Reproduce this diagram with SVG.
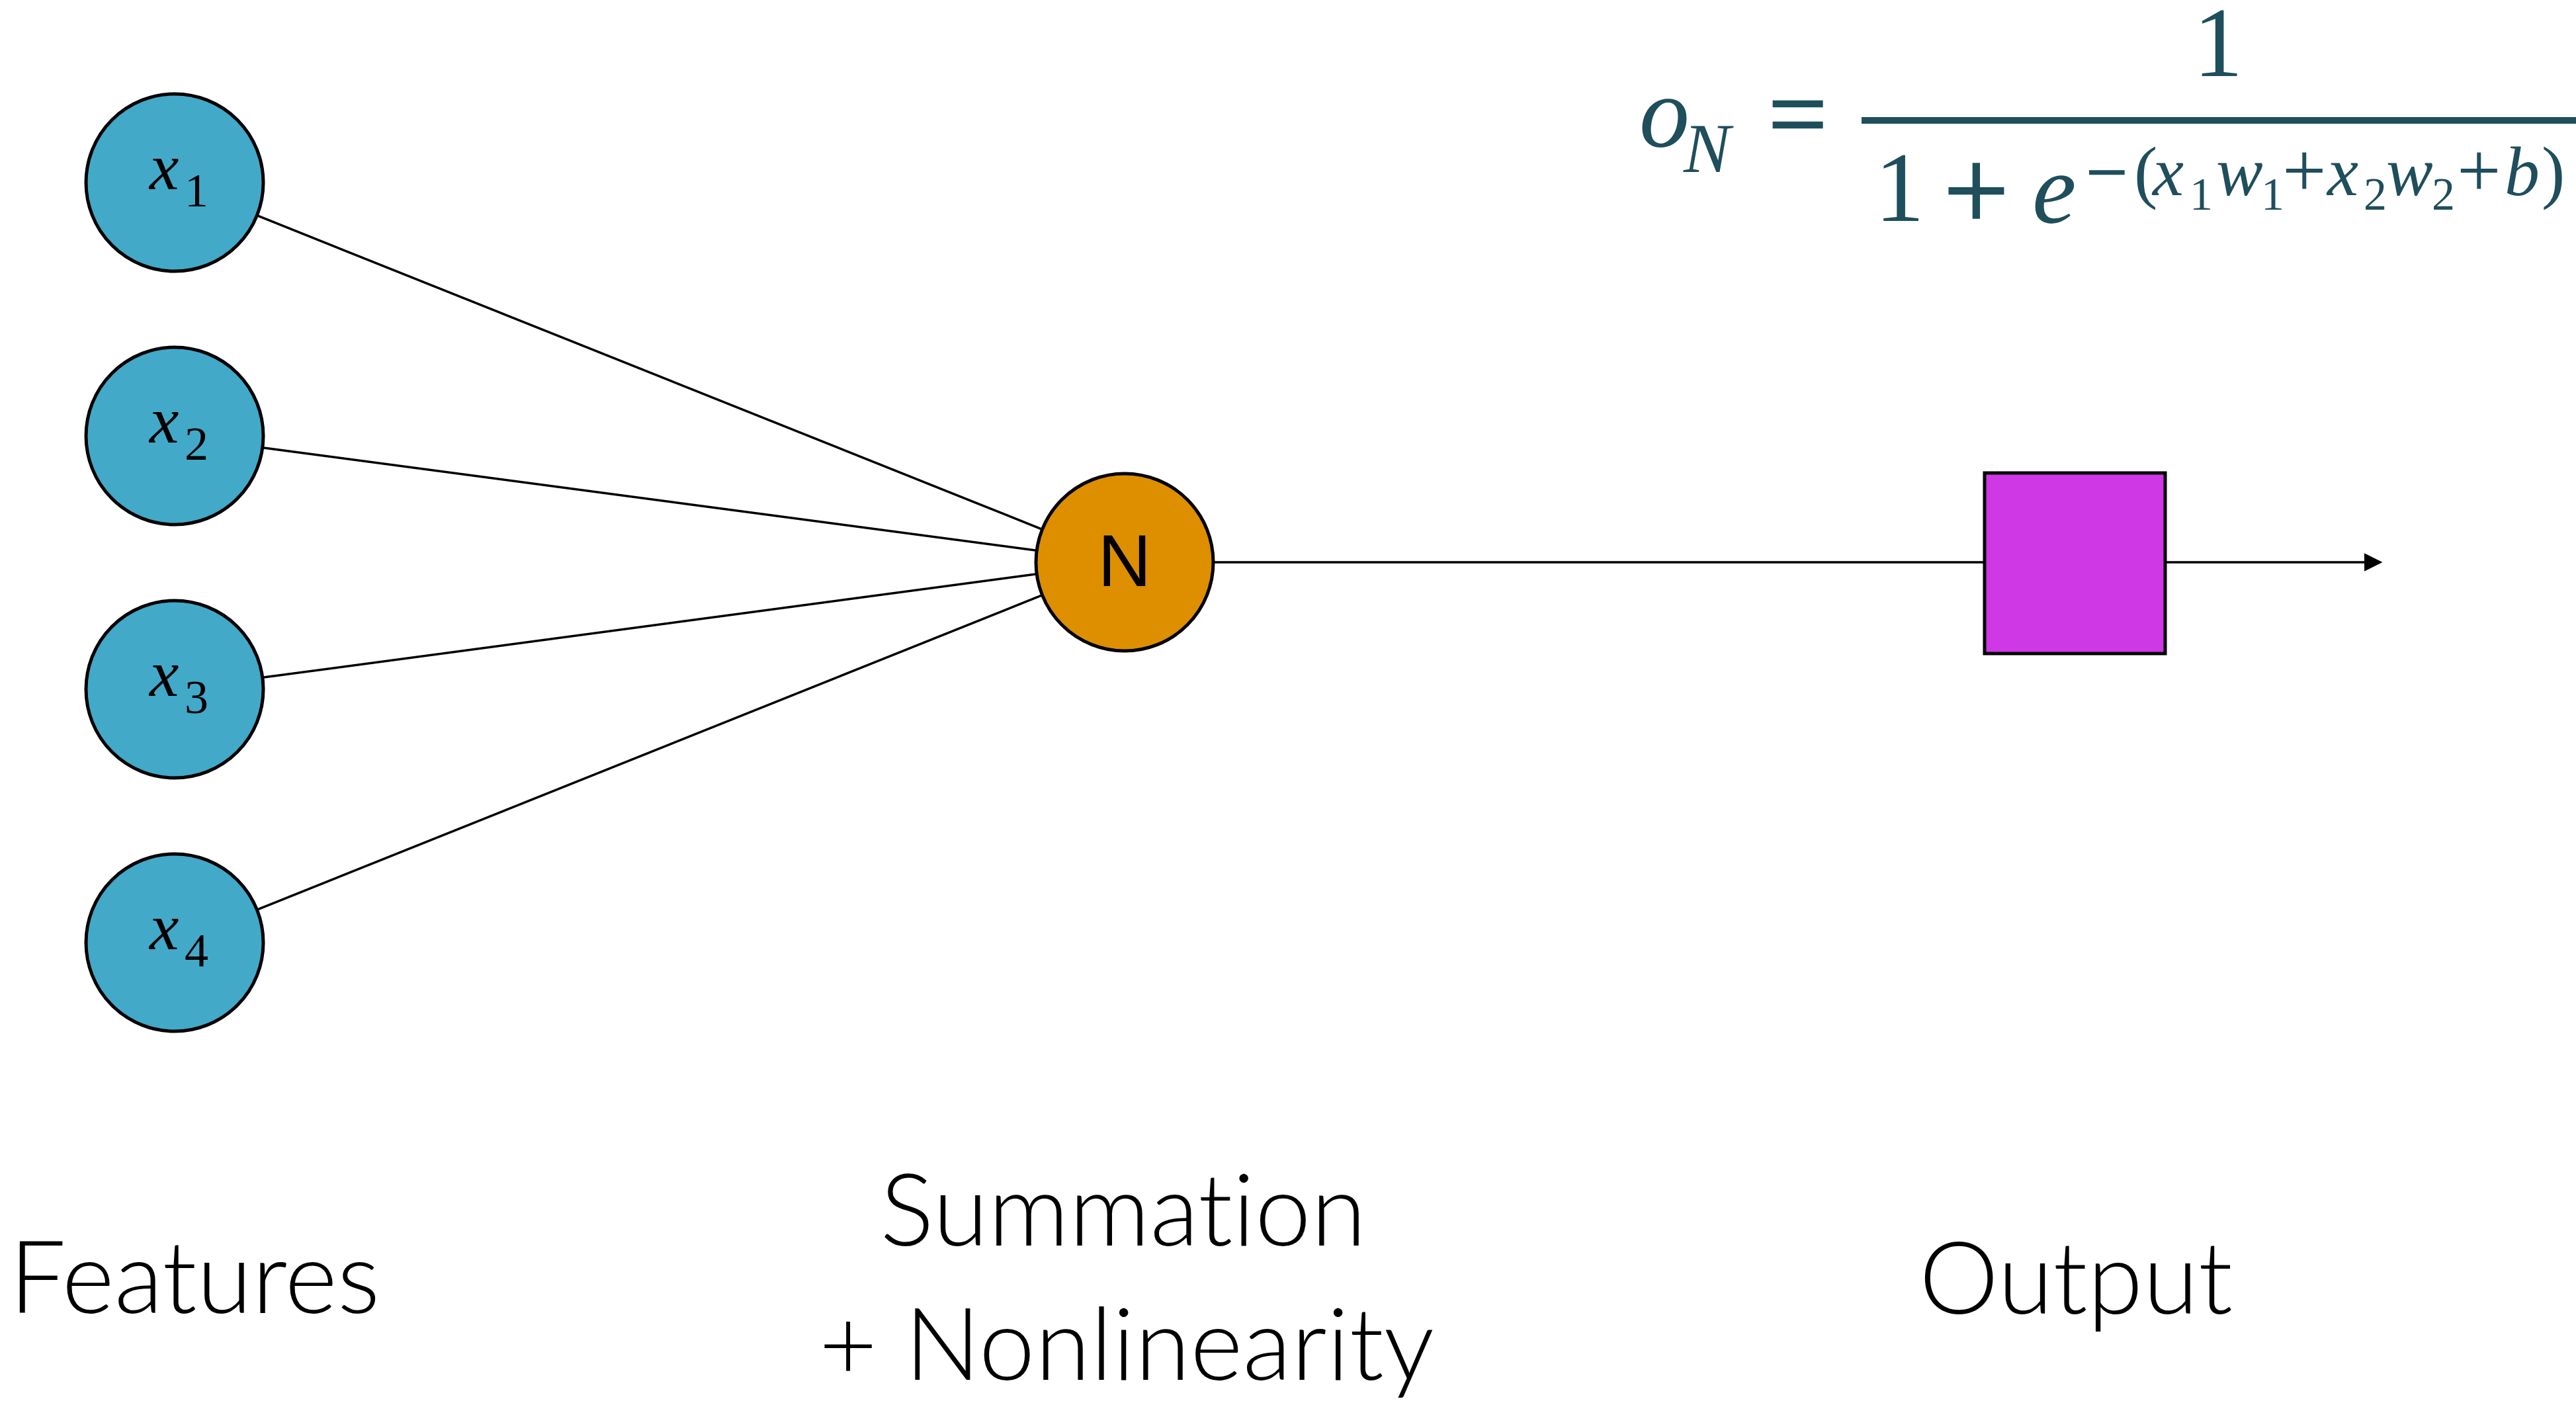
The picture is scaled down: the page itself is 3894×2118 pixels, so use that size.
<svg xmlns="http://www.w3.org/2000/svg" width="3894" height="2118" viewBox="0 0 3894 2118">
<style>
.feat{fill:#42A9C9;stroke:#000;stroke-width:5}
.sum{fill:#DE8F00;stroke:#000;stroke-width:5}
.out{fill:#CF38E5;stroke:#000;stroke-width:5}
.edge{stroke:#000;stroke-width:3.5;fill:none}
.var{font-family:"Liberation Serif",serif;font-style:italic;font-size:100px;fill:#000}
.sub{font-family:"Liberation Serif",serif;font-size:72px;fill:#000}
.lbl{font-family:Lato,"Open Sans",sans-serif;font-weight:300;font-size:152px;fill:#000;font-variant-ligatures:none;font-feature-settings:"liga" 0}
.m{font-family:"Liberation Serif",serif;fill:#1F4E5C}
.mi{font-style:italic}
.thick{stroke:#1F4E5C;stroke-width:2.5}
</style>
<defs>
<marker id="arr" markerWidth="8" markerHeight="8" refX="7" refY="4" orient="auto" markerUnits="strokeWidth">
<path d="M0,0 L8,4 L0,8 Z" fill="#000"/>
</marker>
</defs>
<rect width="3894" height="2118" fill="#fff"/>
<g id="connectors">
<line class="edge" x1="388.4" y1="325.7" x2="1575.6" y2="800.3"/>
<line class="edge" x1="396.8" y1="676.7" x2="1567.2" y2="832.3"/>
<line class="edge" x1="396.8" y1="1024.3" x2="1567.2" y2="867.7"/>
<line class="edge" x1="388.4" y1="1375.3" x2="1575.6" y2="899.7"/>
<line class="edge" x1="1834" y1="850" x2="3000" y2="850"/>
<line class="edge" x1="3273" y1="850" x2="3598" y2="850" marker-end="url(#arr)"/>
</g>
<g id="x1">
<circle class="feat" cx="264" cy="276" r="134"/>
<text class="var" x="226" y="286">x</text><text class="sub" x="279" y="312">1</text>
</g>
<g id="x2">
<circle class="feat" cx="264" cy="659" r="134"/>
<text class="var" x="226" y="669">x</text><text class="sub" x="279" y="695">2</text>
</g>
<g id="x3">
<circle class="feat" cx="264" cy="1042" r="134"/>
<text class="var" x="226" y="1052">x</text><text class="sub" x="279" y="1078">3</text>
</g>
<g id="x4">
<circle class="feat" cx="264" cy="1425" r="134"/>
<text class="var" x="226" y="1435">x</text><text class="sub" x="279" y="1461">4</text>
</g>
<g id="N">
<circle class="sum" cx="1700" cy="850" r="134"/>
<text x="1700" y="886" text-anchor="middle" font-family="Liberation Sans,Arial,sans-serif" font-size="112">N</text>
</g>
<g id="output">
<rect class="out" x="3000" y="715" width="273" height="273"/>
</g>
<g id="labels">
<text class="lbl" x="14" y="1985">Features</text>
<text class="lbl" x="1698" y="1883" text-anchor="middle">Summation</text>
<text class="lbl" x="1703" y="2086" text-anchor="middle">+ Nonlinearity</text>
<text class="lbl" x="3138" y="1986" text-anchor="middle">Output</text>
</g>
<g id="formula">
<text class="m mi" x="2478" y="222" font-size="152">o</text>
<text class="m mi" x="2545" y="260" font-size="106">N</text>
<text class="m thick" x="2673" y="226" font-size="158">=</text>
<rect x="2814" y="177" width="1080" height="10" fill="#1F4E5C"/>
<text class="m" x="3353" y="115" font-size="150" text-anchor="middle">1</text>
<text class="m" x="2834" y="334" font-size="150">1</text>
<text class="m thick" x="2938" y="347" font-size="175">+</text>
<text class="m mi" x="3072" y="337" font-size="150">e</text>
<text class="m thick" x="3153" y="298" font-size="112" style="stroke-width:1.5">−</text>
<text class="m" x="3226" y="295" font-size="106">(</text>
<text class="m mi" x="3254" y="295" font-size="106">x</text>
<text class="m" x="3310" y="317" font-size="70">1</text>
<text class="m mi" x="3350" y="295" font-size="106">w</text>
<text class="m" x="3418" y="317" font-size="70">1</text>
<text class="m" x="3450" y="298" font-size="118">+</text>
<text class="m mi" x="3518" y="295" font-size="106">x</text>
<text class="m" x="3573" y="317" font-size="70">2</text>
<text class="m mi" x="3607" y="295" font-size="106">w</text>
<text class="m" x="3676" y="317" font-size="70">2</text>
<text class="m" x="3714" y="298" font-size="118">+</text>
<text class="m mi" x="3786" y="295" font-size="106">b</text>
<text class="m" x="3842" y="295" font-size="106">)</text>
</g>
</svg>
